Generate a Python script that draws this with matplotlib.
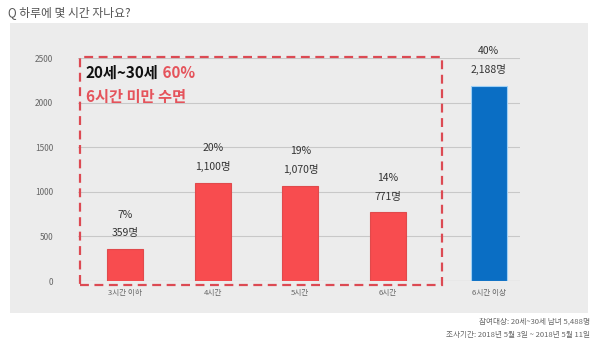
import matplotlib.pyplot as plt
from matplotlib.patches import Rectangle

plt.rcParams['font.family'] = ['Noto Sans CJK KR', 'DejaVu Sans']

categories = ["3시간 이하", "4시간", "5시간", "6시간", "6시간 이상"]
counts = [359, 1100, 1070, 771, 2188]
percents = ["7%", "20%", "19%", "14%", "40%"]
count_labels = ["359명", "1,100명", "1,070명", "771명", "2,188명"]
yticks = [0, 500, 1000, 1500, 2000, 2500]

red = "#f84c4f"
blue = "#0a6ec4"
panel = "#ececec"
hl_red = "#e5535b"

fig = plt.figure(figsize=(6, 3.52), dpi=100)
fig.patch.set_facecolor("white")

# gray panel behind the chart
fig.patches.append(Rectangle((0.017, 0.11), 0.963, 0.825, transform=fig.transFigure,
                             facecolor=panel, edgecolor="none", zorder=-10))

ax = fig.add_axes([0.13, 0.2017, 0.737, 0.6335])
ax.set_facecolor("none")

x = [0, 1, 2, 3, 4.15]
colors = [red, red, red, red, blue]
edges = ["#e04a4c"] * 4 + ["#9fd0f5"]
ax.bar(x, counts, width=0.41, color=colors, edgecolor=edges, linewidth=0.8, zorder=3)

for xi, c, p, cl in zip(x, counts, percents, count_labels):
    ax.text(xi, c + 120, cl, ha="center", va="bottom", fontsize=7.5, color="#333333")
    ax.text(xi, c + 330, p, ha="center", va="bottom", fontsize=7.5, color="#333333")

ax.set_ylim(0, 2500)
ax.set_xlim(-0.54, 4.51)
ax.set_yticks(yticks)
ax.set_yticklabels([str(v) for v in yticks], fontsize=6, color="#666666")
ax.set_xticks(x)
ax.set_xticklabels(categories, fontsize=5.5, color="#666666")
ax.tick_params(axis="y", length=0, pad=18)
ax.tick_params(axis="x", length=0, pad=6)
ax.yaxis.grid(True, color="#c8c8c8", linewidth=0.8, zorder=0)
for s in ax.spines.values():
    s.set_visible(False)
ax.axhline(0, color="#c8c8c8", linewidth=0.8, zorder=1)

# dashed highlight box
ax.add_patch(Rectangle((-0.52, -45), 4.14, 2555, fill=False, edgecolor="#dc4a53",
                       linestyle=(0, (4, 2.5)), linewidth=1.6, clip_on=False, zorder=4))

t1 = ax.text(-0.45, 2330, "20세~30세", fontsize=11, fontweight="semibold",
             color="#111111", va="center")
ax.annotate(" 60%", xy=(1, 0.5), xycoords=t1, va="center", ha="left",
            fontsize=11, fontweight="semibold", color=hl_red)
ax.text(-0.45, 2060, "6시간 미만 수면", fontsize=11, fontweight="semibold",
        color=hl_red, va="center")

fig.text(0.013, 0.965, "Q 하루에 몇 시간 자나요?", fontsize=8.5, color="#555555", va="center")
fig.text(0.983, 0.085, "참여대상: 20세~30세 남녀 5,488명", fontsize=5.5, color="#666666", ha="right", va="center")
fig.text(0.983, 0.048, "조사기간: 2018년 5월 3일 ~ 2018년 5월 11일", fontsize=5.5, color="#666666", ha="right", va="center")

fig.savefig("out.png", dpi=100)
